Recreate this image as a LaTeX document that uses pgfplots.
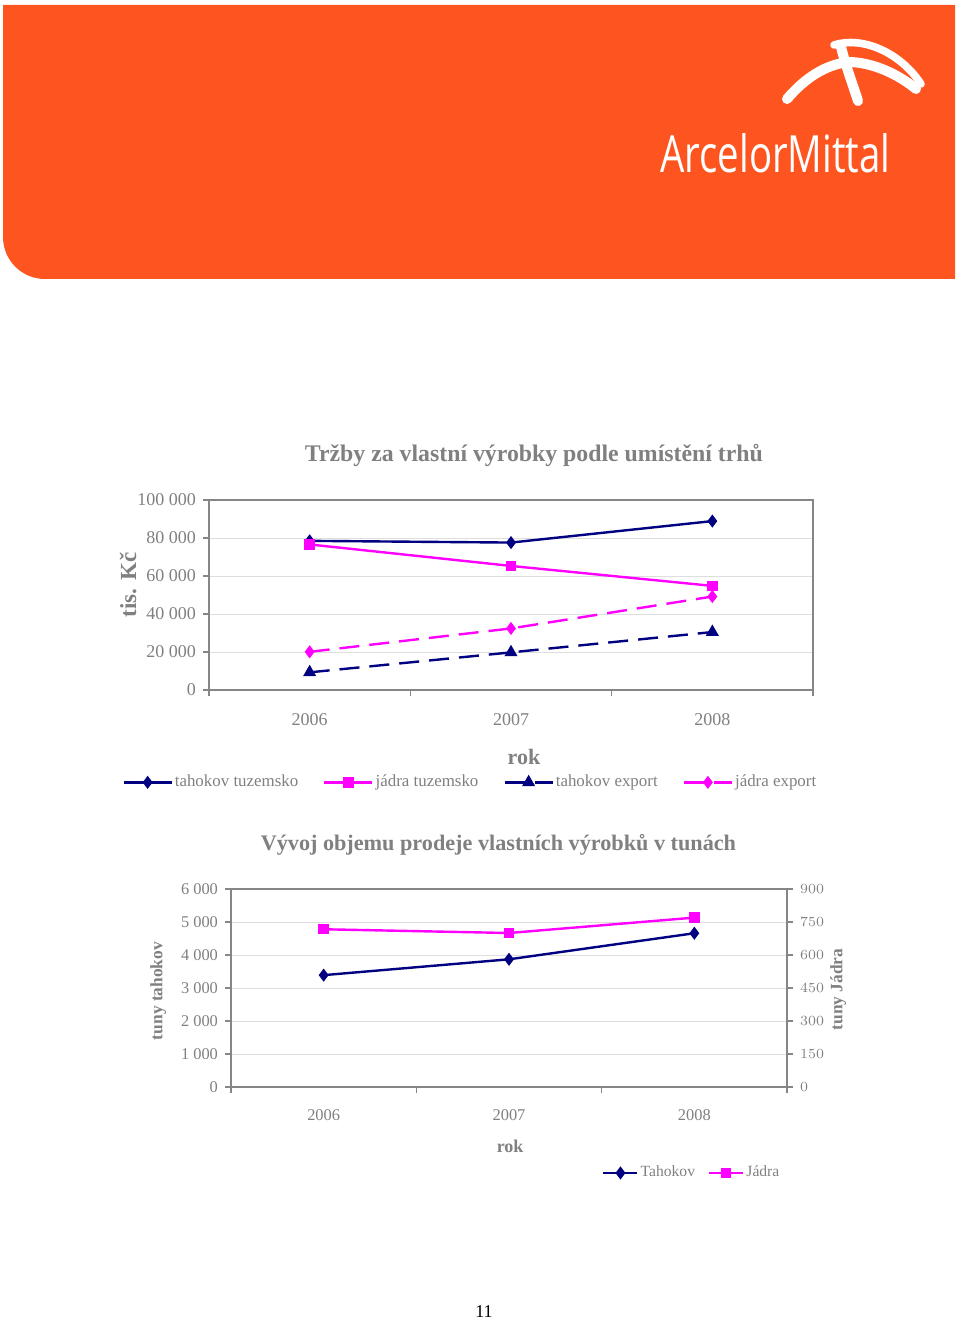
\documentclass[border=0pt]{standalone}
\usepackage{pgfplots}
\pgfplotsset{compat=1.18}
\usepackage{fontspec}
\setmainfont{Liberation Serif}
\newfontfamily\logofont{Open Sans}
\definecolor{amorange}{RGB}{254,85,32}
\definecolor{navy}{RGB}{0,0,128}
\definecolor{mag}{RGB}{255,0,255}
\definecolor{txtgray}{RGB}{128,128,128}
\definecolor{framegray}{RGB}{134,134,134}
\definecolor{gridgray}{RGB}{222,222,222}
\newcommand\fs[1]{\fontsize{#1}{#1}\selectfont}
\pgfplotsset{
  legimgA/.style={legend image code/.code={\draw[mark repeat=2,mark phase=2,##1] plot coordinates {(0pt,0pt) (12pt,0pt) (24pt,0pt)};}},
  legimgB/.style={legend image code/.code={\draw[mark repeat=2,mark phase=2,##1] plot coordinates {(0pt,0pt) (8.5pt,0pt) (17pt,0pt)};}},
  common/.style={
    scale only axis, xmin=0, xmax=3,
    tick align=outside, major tick length=3pt, minor tick length=3pt,
    tick style={framegray, line width=0.6pt},
    axis line style={framegray, line width=0.7pt},
    ticklabel style={text=txtgray},
  },
}
\begin{document}
\begin{tikzpicture}
\path[use as bounding box, fill=white] (0pt,0pt) rectangle (480pt,-660pt);
% banner
\fill[amorange] (1.5pt,-2.5pt) -- (477.5pt,-2.5pt) -- (477.5pt,-139.5pt) -- (22.5pt,-139.5pt)
  arc[start angle=270, end angle=180, radius=21pt] -- cycle;
\node[anchor=base west, inner sep=0pt, text=white] at (330pt,-86.5pt)
  {\resizebox{115pt}{19.5pt}{\logofont ArcelorMittal}};
\begin{scope}[x=0.5pt, y=-0.5pt, white, line cap=round]
  \draw[line width=5pt] (787,99) .. controls (805,78) and (825,65) .. (848,62) .. controls (872,62) and (898,74) .. (916,89);
  \draw[line width=3.8pt] (834,45) .. controls (862,36) and (900,52) .. (921,84);
  \draw[line width=5pt] (841,47) .. controls (847,70) and (853,85) .. (858,101);
\end{scope}

% ---------- chart 1 ----------
\begin{axis}[common, legimgA,
  width=302pt, height=95pt, at={(104.5pt,-345pt)}, anchor=south west,
  ymin=0, ymax=100000,
  xtick={0.5,1.5,2.5}, xticklabels={2006,2007,2008},
  minor xtick={0,1,2,3},
  ytick={0,20000,40000,60000,80000,100000},
  yticklabels={0,20 000,40 000,60 000,80 000,100 000},
  scaled y ticks=false,
  tick pos=left,
  major x tick style={draw=none},
  ymajorgrids, grid style={gridgray, line width=0.5pt},
  ticklabel style={font=\fs{9}},
  xticklabel style={yshift=-5pt},
  title={Tržby za vlastní výrobky podle umístění trhů},
  title style={font=\fs{11.9}\bfseries, text=txtgray, at={(axis description cs:0.538,1.173)}, anchor=center, yshift=0pt},
  ylabel={tis. Kč},
  ylabel style={font=\fs{11.5}\bfseries, text=txtgray, at={(axis description cs:-0.134,0.553)}, anchor=center},
  xlabel={rok},
  xlabel style={font=\fs{11}\bfseries, text=txtgray, at={(axis description cs:0.5215,-0.3526)}, anchor=center},
  legend columns=4,
  legend style={draw=none, fill=none, font=\fs{8.45}, at={(axis description cs:-0.144,-0.486)}, anchor=west,
    inner sep=0pt, nodes={inner sep=1pt, text=txtgray},
    /tikz/every even column/.append style={column sep=11.5pt}},
  legend cell align=left,
]
\addplot[navy, line width=1.2pt, mark=diamond*, mark size=2.3pt, mark options={solid}]
  coordinates {(0.5,78500) (1.5,77600) (2.5,88900)};
\addlegendentry{tahokov tuzemsko}
\addplot[mag, line width=1.2pt, mark=square*, mark size=2pt, mark options={solid}]
  coordinates {(0.5,76600) (1.5,65300) (2.5,54800)};
\addlegendentry{jádra tuzemsko}
\addplot[navy, line width=1.2pt, dash pattern=on 10pt off 5pt, mark=triangle*, mark size=2.6pt, mark options={solid}]
  coordinates {(0.5,9300) (1.5,19800) (2.5,30500)};
\addlegendentry{tahokov export}
\addplot[mag, line width=1.2pt, dash pattern=on 10pt off 5pt, mark=diamond*, mark size=2.3pt, mark options={solid}]
  coordinates {(0.5,20100) (1.5,32400) (2.5,49200)};
\addlegendentry{jádra export}
\end{axis}

% ---------- chart 2 ----------
\begin{axis}[common, legimgB,
  width=278pt, height=99pt, at={(115.5pt,-543.5pt)}, anchor=south west,
  ymin=0, ymax=6000,
  xtick={0.5,1.5,2.5}, xticklabels={2006,2007,2008},
  minor xtick={0,1,2,3},
  ytick={0,1000,2000,3000,4000,5000,6000},
  yticklabels={0,1 000,2 000,3 000,4 000,5 000,6 000},
  scaled y ticks=false,
  tick pos=left,
  major x tick style={draw=none},
  ymajorgrids, grid style={gridgray, line width=0.5pt},
  ticklabel style={font=\fs{8.2}},
  xticklabel style={yshift=-5pt},
  title={Vývoj objemu prodeje vlastních výrobků v tunách},
  title style={font=\fs{11.1}\bfseries, text=txtgray, at={(axis description cs:0.481,1.161)}, anchor=center, yshift=0pt},
  ylabel={tuny tahokov},
  ylabel style={font=\fs{8.7}\bfseries, text=txtgray, at={(axis description cs:-0.131,0.485)}, anchor=center},
  xlabel={rok},
  xlabel style={font=\fs{9}\bfseries, text=txtgray, at={(axis description cs:0.502,-0.298)}, anchor=center},
  legend columns=2,
  legend style={draw=none, fill=none, font=\fs{7.8}, at={(axis description cs:0.667,-0.434)}, anchor=west,
    inner sep=0pt, nodes={inner sep=1pt, text=txtgray},
    /tikz/every even column/.append style={column sep=5.5pt}},
  legend cell align=left,
]
\addplot[navy, line width=1.2pt, mark=diamond*, mark size=2.3pt]
  coordinates {(0.5,3390) (1.5,3870) (2.5,4660)};
\addlegendentry{Tahokov}
\addlegendimage{mag, line width=1.2pt, mark=square*, mark size=2pt}
\addlegendentry{Jádra}
\end{axis}
\begin{axis}[common,
  width=278pt, height=99pt, at={(115.5pt,-543.5pt)}, anchor=south west,
  ymin=0, ymax=900,
  axis x line=none, axis y line*=right,
  ytick={0,150,300,450,600,750,900},
  ticklabel style={font=\fs{7}},
  ylabel={tuny Jádra},
  ylabel style={font=\fs{8.7}\bfseries, text=txtgray, at={(axis description cs:1.092,0.492)}, anchor=center},
]
\addplot[mag, line width=1.2pt, mark=square*, mark size=2pt]
  coordinates {(0.5,717) (1.5,700) (2.5,770)};
\end{axis}

\node[font=\fs{9}, text=black] at (242pt,-656pt) {11};
\end{tikzpicture}
\end{document}
